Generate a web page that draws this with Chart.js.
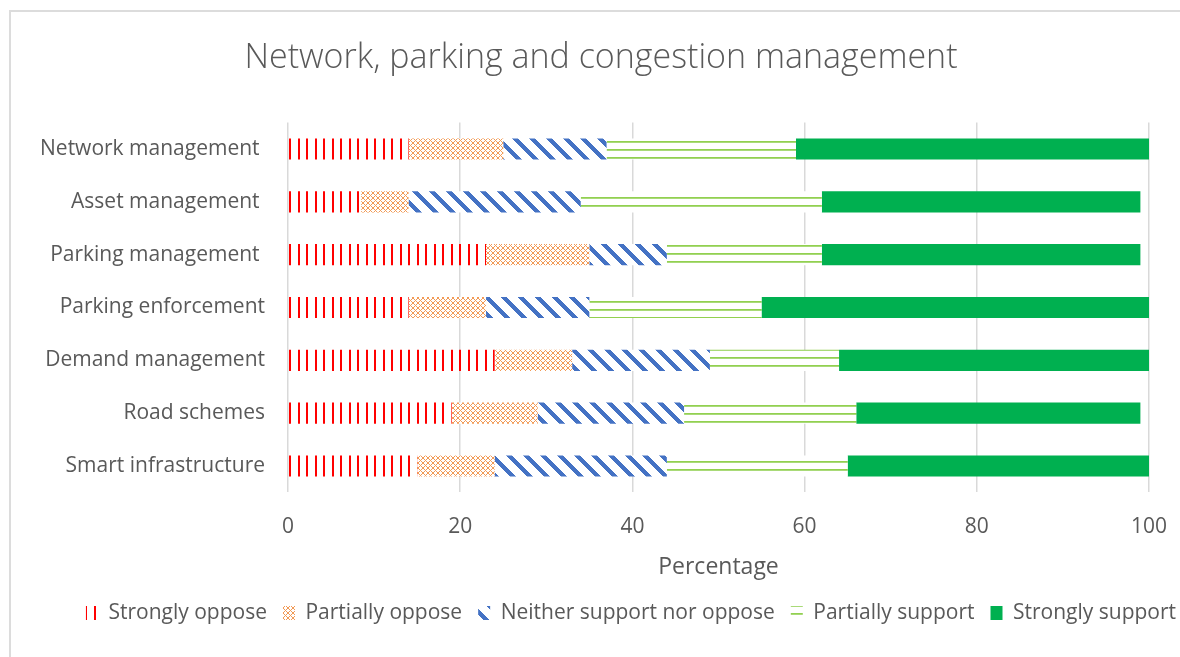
<!DOCTYPE html>
<html>
<head>
<meta charset="utf-8">
<script src="https://cdn.jsdelivr.net/npm/chart.js@4.4.1/dist/chart.umd.min.js"></script>
<style>
  html, body { margin: 0; padding: 0; background: #fff; overflow: hidden; }
  #wrap { position: relative; width: 1180px; height: 657px; }
  #frame { position: absolute; left: 9px; top: 10px; width: 1300px; height: 800px;
           border: 2px solid #dcdcdc; box-sizing: border-box; pointer-events: none; }
  #chart { position: absolute; left: 0; top: 0; }
</style>
</head>
<body>
<div id="wrap">
  <div id="frame"></div>
  <canvas id="chart" width="1180" height="657"></canvas>
</div>
<script>
// categories (trailing spaces are in the source labels)
const categories = ['Network management ', 'Asset management ', 'Parking management ',
  'Parking enforcement', 'Demand management', 'Road schemes', 'Smart infrastructure'];

// percentages per response
const stronglyOppose   = [14, 8.5, 23, 14, 24, 19, 15];
const partiallyOppose  = [11, 5.5, 12,  9,  9, 10,  9];
const neitherNor       = [12, 20,   9, 12, 16, 17, 20];
const partiallySupport = [22, 28,  18, 20, 15, 20, 21];
const stronglySupport  = [41, 37,  37, 45, 36, 33, 35];

const seriesNames = ['Strongly oppose', 'Partially oppose', 'Neither support nor oppose',
  'Partially support', 'Strongly support'];

const xMin = 0, xMax = 100, xStep = 20;

const TEXT = '#595959';
const FONT = '"Open Sans", sans-serif';
Chart.defaults.font.family = FONT;

// small tile -> repeating fill pattern
function makePattern(w, h, paint) {
  const c = document.createElement('canvas');
  c.width = w; c.height = h;
  const g = c.getContext('2d');
  paint(g, w, h);
  return g.createPattern(c, 'repeat');
}

const redLines = makePattern(17, 4, (g, w, h) => {
  g.fillStyle = '#ff0000';
  g.fillRect(0, 0, 2, h);
  g.fillRect(9, 0, 2, h);
});

const orangeDots = makePattern(5, 5, (g) => {
  g.fillStyle = '#ffffff';
  g.fillRect(0, 0, 5, 5);
  for (let x = 0; x < 5; x++) {
    for (let y = 0; y < 5; y++) {
      if ((x + y) % 5 === 0 || (x - y + 5) % 5 === 0) {
        g.fillStyle = '#f29a55';
        g.fillRect(x, y, 1, 1);
      }
    }
  }
});

const blueDiag = makePattern(17, 17, (g) => {
  g.fillStyle = '#ffffff';
  g.fillRect(0, 0, 17, 17);
  g.fillStyle = '#4472c4';
  for (let x = 0; x < 17; x++) {
    for (let y = 0; y < 17; y++) {
      if ((((x - y) % 17) + 17) % 17 < 6) g.fillRect(x, y, 1, 1);
    }
  }
});

const greenLines = makePattern(4, 8, (g) => {
  g.fillStyle = '#ffffff';
  g.fillRect(0, 0, 4, 8);
  g.fillStyle = '#92d050';
  g.fillRect(0, 5, 4, 1);
  g.fillStyle = '#a9da78';
  g.fillRect(0, 6, 4, 1);
});

const fills = [redLines, orangeDots, blueDiag, greenLines, '#00b050'];
const values = [stronglyOppose, partiallyOppose, neitherNor, partiallySupport, stronglySupport];

// nudge title / legend to where the source chart centres them
const boxShift = {
  id: 'boxShift',
  afterLayout(chart) {
    const lg = chart.legend;
    lg.left += 56.5; lg.right += 56.5;
    const tb = chart.titleBlock;
    tb.left += 26.5; tb.right += 26.5;
  }
};

new Chart(document.getElementById('chart').getContext('2d'), {
  type: 'bar',
  data: {
    labels: categories,
    datasets: seriesNames.map((name, i) => ({
      label: name,
      data: values[i],
      backgroundColor: fills[i],
      borderWidth: 0,
      barPercentage: 0.4,
      categoryPercentage: 1
    }))
  },
  options: {
    indexAxis: 'y',
    responsive: false,
    animation: false,
    layout: { padding: { top: 0, right: 31, bottom: 23.5, left: 0 } },
    plugins: {
      title: {
        display: true,
        text: 'Network, parking and congestion management',
        color: TEXT,
        font: { size: 34, weight: '300' },
        padding: { top: 37.6, bottom: 44.2 }
      },
      legend: {
        position: 'bottom',
        labels: {
          color: TEXT,
          boxWidth: 12,
          boxHeight: 14,
          padding: 16,
          font: { size: 21 }
        }
      },
      tooltip: { enabled: false }
    },
    scales: {
      x: {
        stacked: true,
        min: xMin,
        max: xMax,
        ticks: { stepSize: xStep, color: TEXT, font: { size: 21 }, padding: 0 },
        grid: { color: '#d9d9d9', lineWidth: 1.5, drawTicks: true, tickLength: 22,
                tickColor: 'rgba(0,0,0,0)' },
        border: { display: false },
        title: {
          display: true,
          text: 'Percentage',
          color: TEXT,
          font: { size: 23 },
          padding: { top: 0, bottom: 5.7 }
        },
        afterFit(scale) { scale.height = 94.1; }
      },
      y: {
        stacked: true,
        grid: { display: false, drawTicks: false },
        border: { display: false },
        ticks: { color: TEXT, font: { size: 21 }, padding: 23 },
        afterFit(scale) { scale.width = 288; }
      }
    }
  },
  plugins: [boxShift]
});
</script>
</body>
</html>
